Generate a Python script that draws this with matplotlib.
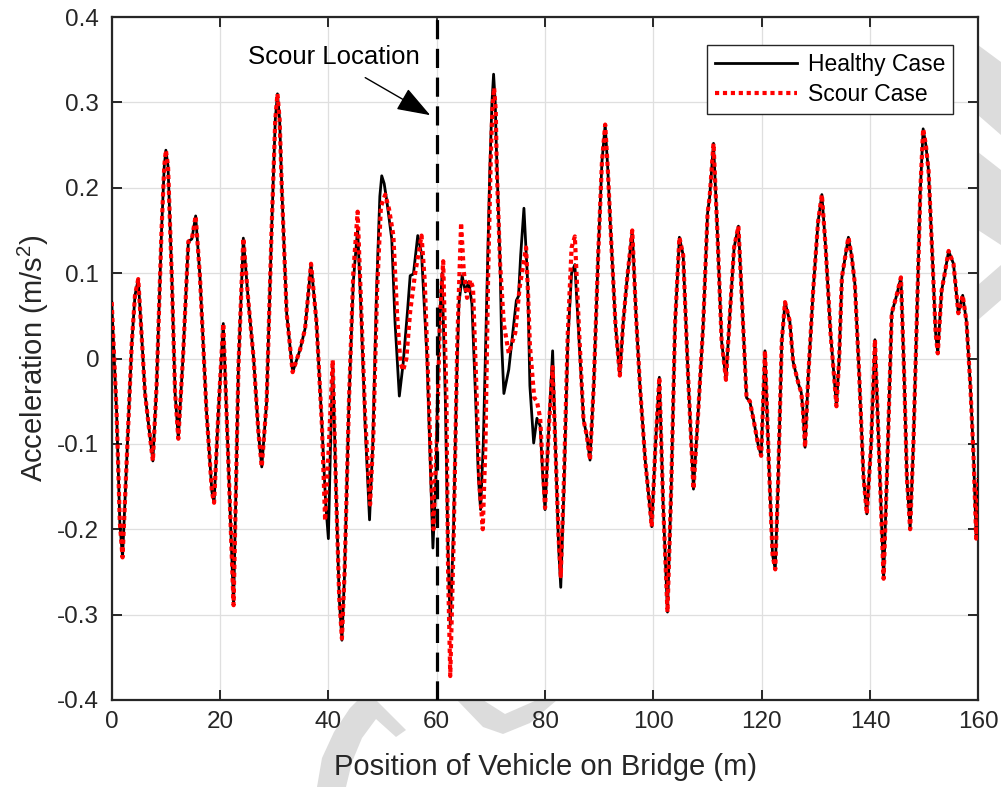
import numpy as np
import matplotlib
matplotlib.use('Agg')
from matplotlib import pyplot as plt
from matplotlib.patches import Polygon

plt.rcParams['font.family'] = ['Liberation Sans', 'DejaVu Sans']
plt.rcParams['mathtext.fontset'] = 'custom'
plt.rcParams['mathtext.rm'] = 'Liberation Sans'

# ---- data ----
# part where both cases are the same (0 - 39 m)
x_start = [0, 0.9, 1.5, 2.0, 2.8, 3.7, 4.3, 4.9, 5.5, 6.15, 7.0, 7.6, 8.3, 9.2, 9.7, 10.0,
           10.4, 11.1, 11.7, 12.3, 13.2, 14.15, 14.8, 15.5, 16.3, 17.5, 18.5, 18.9,
           19.7, 20.6, 21.5, 22.5, 23.4, 24.3, 25.2, 26.2, 27.1, 27.7, 28.6, 29.5,
           30.2, 30.6, 31.0, 31.4, 32.3, 33.4, 34.8, 35.7, 36.8, 37.8, 38.8]
y_start = [0.066, -0.062, -0.192, -0.233, -0.114, 0.017, 0.074, 0.093, 0.03, -0.041,
           -0.088, -0.12, -0.03, 0.15, 0.225, 0.244, 0.225, 0.095, -0.04, -0.094, 0.006,
           0.137, 0.14, 0.167, 0.095, -0.062, -0.156, -0.169, -0.062, 0.041, -0.114,
           -0.289, -0.009, 0.141, 0.069, 0.0, -0.088, -0.127, -0.051, 0.147, 0.28, 0.31,
           0.28, 0.2, 0.053, -0.016, 0.011, 0.035, 0.111, 0.043, -0.077]

# part where the two cases differ (39 - 87 m)
x_healthy_mid = [39.5, 40.0, 40.4, 40.8, 41.4, 42.0, 42.5, 43.0, 43.8, 44.6, 45.4, 46.0,
                 46.8, 47.6, 48.2, 48.9, 49.5, 49.85, 50.3, 50.8, 51.7, 52.3, 53.1, 53.8,
                 54.6, 55.1, 55.7, 56.5, 57.2, 58.2, 58.8, 59.3, 59.8, 60.2, 60.5, 61.0,
                 61.6, 62.1, 62.5, 63.1, 63.7, 64.1, 64.7, 65.3, 65.9, 66.5, 67.2, 67.7,
                 68.1, 68.6, 69.2, 69.8, 70.2, 70.5, 70.8, 71.0, 71.7, 72.0, 72.4, 73.3,
                 74.1, 74.7, 75.1, 75.5, 76.1, 76.8, 77.2, 77.9, 78.5, 79.1, 79.6, 80.0,
                 80.7, 81.4, 82.0, 82.5, 82.9, 83.5, 84.2, 84.9, 85.5, 86.3]
y_healthy_mid = [-0.17, -0.211, -0.1, -0.004, -0.15, -0.28, -0.33, -0.25, -0.05, 0.09,
                 0.152, 0.06, -0.08, -0.189, -0.1, 0.08, 0.19, 0.214, 0.205, 0.184, 0.14,
                 0.043, -0.044, -0.006, 0.055, 0.097, 0.099, 0.144, 0.123, 0.002, -0.12,
                 -0.222, -0.15, -0.03, 0.04, 0.1, -0.05, -0.23, -0.312, -0.2, -0.02,
                 0.064, 0.097, 0.078, 0.09, 0.064, -0.05, -0.14, -0.177, -0.1, 0.06, 0.22,
                 0.3, 0.333, 0.3, 0.25, 0.111, 0.016, -0.041, -0.013, 0.033, 0.068, 0.073,
                 0.121, 0.176, 0.088, -0.032, -0.099, -0.07, -0.079, -0.14, -0.177, -0.08,
                 0.009, -0.12, -0.22, -0.268, -0.15, 0.02, 0.1, 0.11, 0.02]

x_scour_mid = [39.4, 40.1, 40.8, 41.4, 42.0, 42.5, 43.0, 43.8, 44.6, 45.4, 46.0, 46.8,
               47.7, 48.3, 49.0, 49.7, 50.5, 51.2, 52.0, 52.7, 53.3, 53.8, 54.4, 55.1,
               56.0, 57.2, 57.8, 58.5, 59.0, 59.4, 60.1, 60.6, 61.2, 61.8, 62.1, 62.5,
               63.1, 63.8, 64.5, 65.0, 65.6, 66.2, 66.7, 67.3, 67.9, 68.5, 69.0, 69.5,
               70.0, 70.3, 70.6, 70.9, 71.1, 71.7, 72.4, 73.3, 74.5, 75.3, 76.5, 76.9,
               77.2, 78.0, 78.5, 79.1, 79.6, 80.0, 80.7, 81.4, 82.0, 82.5, 82.9, 83.5,
               84.2, 84.9, 85.5, 86.3]
y_scour_mid = [-0.19, -0.1, -0.002, -0.15, -0.28, -0.328, -0.25, -0.05, 0.1, 0.172, 0.07,
               -0.07, -0.171, -0.09, 0.08, 0.178, 0.192, 0.175, 0.144, 0.05, -0.005,
               -0.014, 0.0, 0.055, 0.099, 0.144, 0.09, -0.04, -0.14, -0.2, -0.08, 0.05,
               0.114, -0.05, -0.25, -0.372, -0.22, 0.02, 0.159, 0.102, 0.071, 0.092,
               0.083, -0.03, -0.15, -0.2, -0.1, 0.1, 0.24, 0.295, 0.317, 0.29, 0.22,
               0.111, 0.04, 0.006, 0.03, 0.083, 0.13, 0.07, 0.016, -0.046, -0.05, -0.07,
               -0.13, -0.175, -0.08, -0.01, -0.12, -0.21, -0.255, -0.14, 0.03, 0.13,
               0.143, 0.03]

# part where both cases are the same again (87 - 160 m)
x_end = [87.1, 87.7, 88.3, 89.0, 89.8, 90.5, 91.1, 91.6, 92.1, 93.0, 93.8, 94.4, 95.1,
         96.1, 96.8, 97.5, 98.5, 99.7, 100.4, 101.1, 101.8, 102.6, 103.3, 104.0, 104.8,
         105.5, 106.4, 107.4, 108.3, 109.2, 110.0, 110.4, 111.1, 111.8, 112.6, 113.4,
         114.1, 114.9, 115.7, 116.4, 117.2, 117.8, 118.5, 119.3, 119.9, 120.6, 121.3,
         122.0, 122.5, 123.0, 123.7, 124.3, 125.2, 125.8, 126.8, 127.3, 127.6, 128.0,
         128.6, 129.5, 130.4, 131.1, 131.8, 132.7, 133.8, 134.3, 134.8, 136.0, 136.6,
         137.2, 138.0, 138.8, 139.4, 140.2, 140.9, 141.6, 142.5, 143.2, 144.0, 144.9,
         145.7, 146.3, 146.8, 147.4, 148.0, 148.7, 149.3, 149.8, 150.3, 150.8, 151.5,
         152.1, 152.5, 153.2, 153.8, 154.5, 155.4, 156.3, 157.1, 157.8, 158.5, 159.1,
         159.6, 160.0]
y_end = [-0.072, -0.09, -0.119, -0.03, 0.12, 0.23, 0.274, 0.22, 0.152, 0.04, -0.02,
         0.04, 0.09, 0.15, 0.05, -0.03, -0.12, -0.197, -0.1, -0.022, -0.17, -0.297,
         -0.15, 0.04, 0.142, 0.121, -0.02, -0.153, -0.06, 0.04, 0.17, 0.19, 0.252, 0.15,
         0.02, -0.025, 0.05, 0.13, 0.155, 0.06, -0.046, -0.05, -0.072, -0.1, -0.114,
         0.009, -0.12, -0.23, -0.247, -0.15, 0.02, 0.066, 0.043, -0.004, -0.03, -0.04,
         -0.06, -0.104, -0.02, 0.08, 0.16, 0.192, 0.13, 0.03, -0.056, 0.0, 0.095, 0.142,
         0.12, 0.087, -0.02, -0.14, -0.182, -0.1, 0.022, -0.1, -0.258, -0.12, 0.053,
         0.074, 0.095, -0.02, -0.14, -0.2, -0.1, 0.06, 0.2, 0.269, 0.25, 0.22, 0.12,
         0.03, 0.006, 0.079, 0.1, 0.126, 0.111, 0.053, 0.074, 0.043, -0.03, -0.114,
         -0.211, -0.14]

x_healthy = x_start + x_healthy_mid + x_end
y_healthy = y_start + y_healthy_mid + y_end
x_scour = x_start + x_scour_mid + x_end
y_scour = y_start + y_scour_mid + y_end

scour_pos = 60
W, H = 1001, 787

fig = plt.figure(figsize=(W / 100, H / 100), dpi=100)
fig.patch.set_facecolor('white')


# faint watermark pieces that show outside the axes (pixel coords, top-left origin)
def px(pts):
    return [(p[0] / W, 1 - p[1] / H) for p in pts]


wm = '#dcdcdc'
shapes = [
    [(317, 787), (322, 758), (334, 732), (350, 708), (358, 700), (376, 700), (406, 730),
     (396, 737), (376, 719), (362, 738), (352, 762), (346, 787)],
    [(457, 700), (483, 727), (503, 734), (530, 723), (557, 700), (537, 700), (505, 714),
     (483, 700)],
    [(978, 45), (1001, 62), (1001, 135), (978, 115)],
    [(978, 152), (1001, 170), (1001, 245), (978, 230)],
    [(978, 285), (1001, 265), (1001, 300), (978, 320)],
]
for s in shapes:
    fig.add_artist(Polygon(px(s), closed=True, transform=fig.transFigure,
                           facecolor=wm, edgecolor='none', zorder=-5))

ax = fig.add_axes([111.7 / W, 1 - 700 / H, 866.7 / W, 683 / H])
ax.set_facecolor('white')

ax.plot(x_healthy, y_healthy, color='black', lw=2.0, label='Healthy Case', zorder=3,
        solid_joinstyle='round')
ax.plot(x_scour, y_scour, color='#ff0000', lw=3.0, linestyle=(0, (1, 0.9)),
        label='Scour Case', zorder=4)
ax.axvline(scour_pos, color='black', lw=2.3, linestyle=(0, (6, 3)), zorder=5)

ax.annotate('', xy=(58.8, 0.285), xytext=(46.8, 0.329),
            arrowprops=dict(arrowstyle='-|>,head_length=1.4,head_width=0.5',
                            color='black', lw=1.0, mutation_scale=15,
                            shrinkA=0, shrinkB=0))
ax.text(41.07, 0.353, 'Scour Location', fontsize=18.5, ha='center', va='center',
        color='black')

ax.set_xlim(0, 160)
ax.set_ylim(-0.4, 0.4)
ax.set_xticks(np.arange(0, 161, 20))
ax.set_yticks(np.round(np.arange(-0.4, 0.41, 0.1), 1))
ax.set_yticklabels(['-0.4', '-0.3', '-0.2', '-0.1', '0', '0.1', '0.2', '0.3', '0.4'])

ax.grid(True, color='#dfdfdf', lw=0.9)
ax.set_axisbelow(True)
for sp in ax.spines.values():
    sp.set_color('#262626')
    sp.set_linewidth(1.6)
ax.tick_params(direction='in', length=7, width=1.4, color='#262626',
               labelsize=17.5, labelcolor='#262626', top=True, right=True)
ax.tick_params(axis='x', pad=8)
ax.tick_params(axis='y', pad=9)

ax.set_xlabel('Position of Vehicle on Bridge (m)', fontsize=21, color='#262626')
ax.set_ylabel(r'Acceleration (m/s$^{\mathrm{2}}$)', fontsize=21, color='#262626')
ax.xaxis.set_label_coords(0.5, -0.078)
ax.yaxis.set_label_coords(-0.07, 0.5)

leg = ax.legend(loc='upper right', bbox_to_anchor=(0.9707, 0.959), borderaxespad=0,
                fontsize=16.5, fancybox=False, framealpha=1, edgecolor='#262626',
                handlelength=3.6, handletextpad=0.45, labelspacing=0.3, borderpad=0.35)
leg.get_frame().set_linewidth(1.0)
for t in leg.get_texts():
    t.set_color('black')

fig.savefig('out.png', dpi=100)
